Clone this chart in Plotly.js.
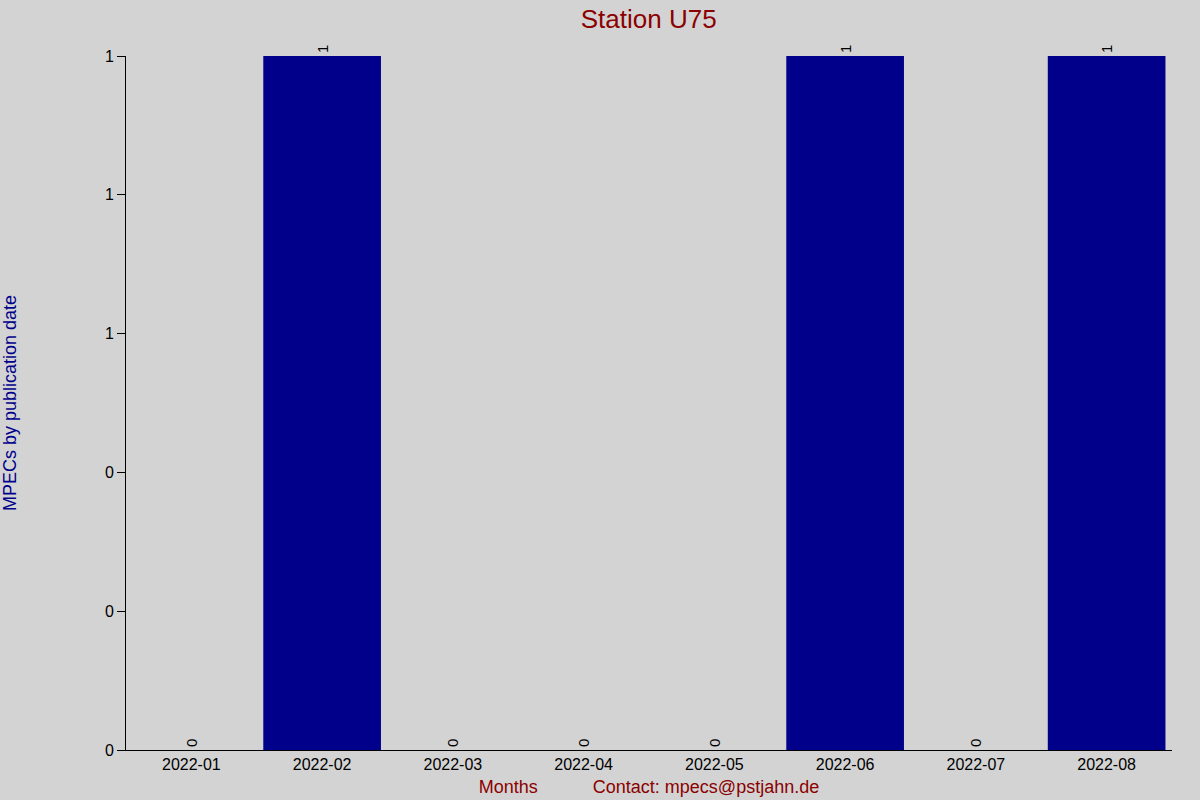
<!DOCTYPE html>
<html>
<head>
<meta charset="utf-8">
<script src="https://cdn.plot.ly/plotly-3.0.1.min.js"></script>
<style>
body { margin: 0; background: #d3d3d3; }
#chart { width: 1200px; height: 800px; }
</style>
</head>
<body>
<div id="chart"></div>
<script>
const months = ["2022-01", "2022-02", "2022-03", "2022-04", "2022-05", "2022-06", "2022-07", "2022-08"];
const mpecs = [0, 1, 0, 0, 0, 1, 0, 1];
const yTicks = [0, 0.2, 0.4, 0.6, 0.8, 1];

// Define Data
const data = [{
  x: months,
  y: mpecs,
  type: "bar",
  width: 0.9,
  marker: {color: "#00008b"},
  text: mpecs.map(String),
  textposition: "outside",
  textangle: -90,
  textfont: {family: "Liberation Sans, Arial, sans-serif", size: 15, color: "#000000"},
  cliponaxis: false,
  hoverinfo: "none"
}];

// Define Layout
const layout = {
  width: 1200,
  height: 800,
  paper_bgcolor: "#d3d3d3",
  plot_bgcolor: "#d3d3d3",
  font: {family: "Liberation Sans, Arial, sans-serif", size: 16, color: "#000000"},
  showlegend: false,
  title: {
    text: "Station U75",
    font: {size: 26, color: "#8b0000"},
    x: 0.5406, xanchor: "center",
    y: 0.977, yanchor: "middle"
  },
  xaxis: {
    type: "category",
    title: {
      text: "Months\u00a0\u00a0\u00a0\u00a0\u00a0\u00a0\u00a0\u00a0\u00a0\u00a0\u00a0Contact: mpecs@pstjahn.de",
      font: {size: 18, color: "#8b0000"},
      standoff: 8
    },
    showline: true,
    linecolor: "#000000",
    linewidth: 1,
    ticks: "",
    showgrid: false,
    zeroline: false,
    tickfont: {size: 16}
  },
  yaxis: {
    range: [0, 1],
    tickvals: yTicks,
    tickformat: ".0f",
    title: {
      text: "MPECs by publication date",
      font: {size: 18, color: "#00008b"},
      standoff: 84
    },
    showline: true,
    linecolor: "#000000",
    linewidth: 1,
    ticks: "outside",
    ticklen: 8,
    tickcolor: "#000000",
    showgrid: false,
    zeroline: false,
    tickfont: {size: 16}
  },
  bargap: 0.1,
  margin: {t: 56, l: 126, b: 50, r: 28}
};

var config = {responsive: false, displayModeBar: false, staticPlot: true};

Plotly.newPlot("chart", data, layout, config);
</script>
</body>
</html>
